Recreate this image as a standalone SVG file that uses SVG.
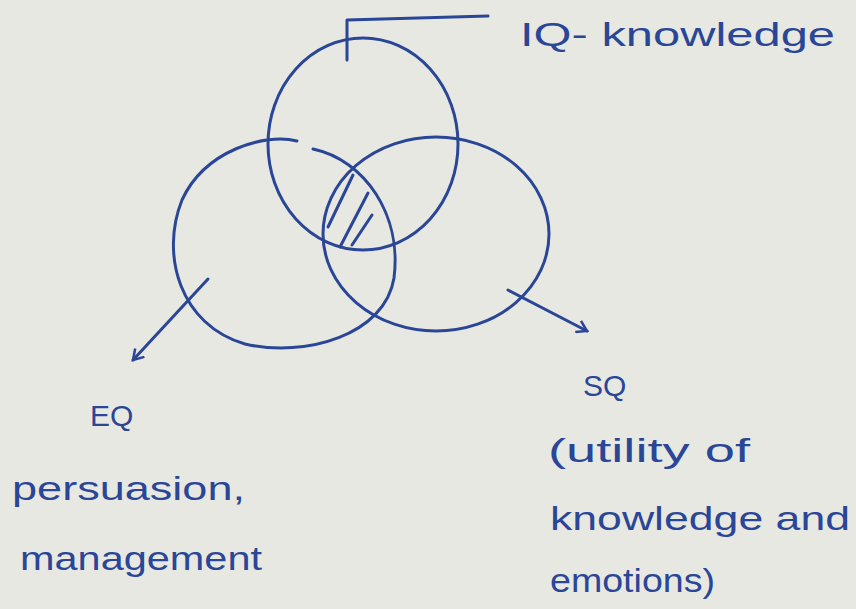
<svg xmlns="http://www.w3.org/2000/svg" width="856" height="609" viewBox="0 0 856 609">
<defs>
<style>
.ink{fill:none;stroke:#2a4696;stroke-width:3;stroke-linecap:round;stroke-linejoin:round}
.t{fill:#2a4696;font-family:"Liberation Sans","DejaVu Sans",sans-serif}
</style>
<marker id="ah" viewBox="0 0 12 12" refX="10" refY="6" markerWidth="5" markerHeight="5" orient="auto" markerUnits="strokeWidth">
<path d="M2,1 L10,6 L2,11" fill="none" stroke="#2a4696" stroke-width="2"/>
</marker>
</defs>
<rect width="856" height="609" fill="#e8e8e3"/>
<g id="iq">
<ellipse class="ink" cx="363" cy="144" rx="95" ry="106"/>
<path class="ink" d="M347,60 L347,20 L488,16"/>
<text class="t" x="520" y="46" font-size="34" textLength="315" lengthAdjust="spacingAndGlyphs">IQ- knowledge</text>
</g>
<g id="eq">
<path class="ink" d="M297,141 C265,133 205,150 182,200 C160,255 180,325 245,344 C305,358 385,335 394,278 C402,215 365,160 313,149"/>
<text class="t" x="90" y="426" font-size="30">EQ</text>
<text class="t" x="12" y="500" font-size="34" textLength="233" lengthAdjust="spacingAndGlyphs">persuasion,</text>
<text class="t" x="20" y="570" font-size="34" textLength="242" lengthAdjust="spacingAndGlyphs">management</text>
</g>
<g id="sq">
<ellipse class="ink" cx="436" cy="234" rx="113" ry="97"/>
<text class="t" x="583" y="396" font-size="30">SQ</text>
<text class="t" x="548" y="462" font-size="34" textLength="202" lengthAdjust="spacingAndGlyphs">(utility of</text>
<text class="t" x="550" y="530" font-size="34" textLength="300" lengthAdjust="spacingAndGlyphs">knowledge and</text>
<text class="t" x="550" y="592" font-size="34" textLength="165" lengthAdjust="spacingAndGlyphs">emotions)</text>
</g>
<g id="connectors">
<path class="ink" d="M208,279 L133,360" marker-end="url(#ah)"/>
<path class="ink" d="M508,290 L587,331" marker-end="url(#ah)"/>
<path class="ink" d="M353,175 L328,227 M368,193 L340,247 M372,215 L352,245"/>
</g>
</svg>
